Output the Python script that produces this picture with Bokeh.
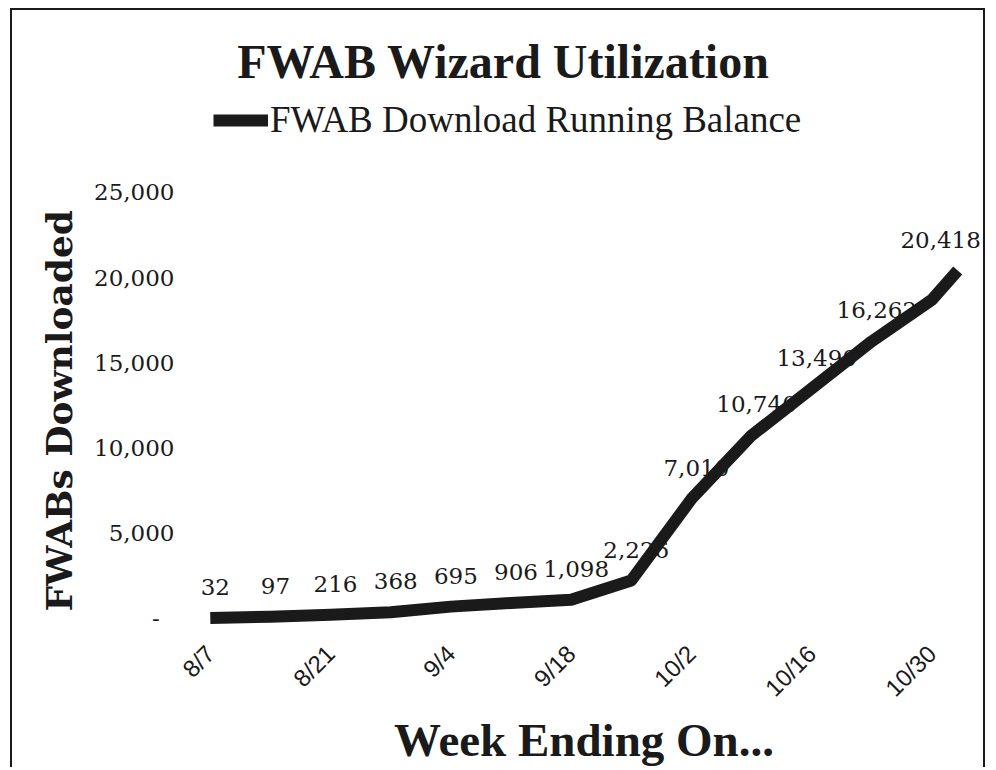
import pandas as pd
from bokeh.plotting import figure
from bokeh.models import (ColumnDataSource, FixedTicker, NumeralTickFormatter,
                          Title, Label, Legend, LegendItem)
from bokeh.core.properties import value
from bokeh.embed import file_html
from bokeh.resources import INLINE

# ---- data ----
week_ending = ["2004-08-07", "2004-08-14", "2004-08-21", "2004-08-28", "2004-09-04",
               "2004-09-11", "2004-09-18", "2004-09-25", "2004-10-02", "2004-10-09",
               "2004-10-16", "2004-10-23", "2004-10-30", "2004-11-02"]
running_balance = [32, 97, 216, 368, 695, 906, 1098, 2226, 7010, 10740,
                   13490, 16262, 18700, 20418]
value_labels = ["32", "97", "216", "368", "695", "906", "1,098", "2,226", "7,010",
                "10,740", "13,490", "16,262", "", "20,418"]
tick_dates = ["2004-08-07", "2004-08-21", "2004-09-04", "2004-09-18",
              "2004-10-02", "2004-10-16", "2004-10-30"]
tick_labels = ["8/7", "8/21", "9/4", "9/18", "10/2", "10/16", "10/30"]
y_ticks = [0, 5000, 10000, 15000, 20000, 25000]

start = pd.Timestamp(week_ending[0])
days = [(pd.Timestamp(d) - start).days for d in week_ending]
tick_days = [(pd.Timestamp(d) - start).days for d in tick_dates]

# ---- layout constants ----
W, H = 975, 759
MB_L, MB_R, MB_T, MB_B = 172, 4, 0, 133
X0, X1 = -3, 90
Y0, Y1 = -1000, 35675          # upper part of the frame holds title + legend
FRAME_W = W - MB_L - MB_R
LBL_PX = 23

# keep data labels inside the plot area (as the original chart does)
def text_width(s, fs):
    return sum((0.33 if c == "," else 0.66) * fs for c in s)

px_per_day = (FRAME_W - 4) / (X1 - X0)
offsets = []
for d, s in zip(days, value_labels):
    px = (d - X0) * px_per_day
    off = 5.0
    half = text_width(s, LBL_PX) / 2
    if px + off + half > FRAME_W - 5:
        off = FRAME_W - 5 - half - px
    offsets.append(off)

src = ColumnDataSource(dict(x=days, y=running_balance, lbl=value_labels, xo=offsets))

p = figure(width=W, height=H, output_backend="svg", toolbar_location=None,
           x_range=(X0, X1), y_range=(Y0, Y1),
           min_border_left=MB_L, min_border_right=MB_R,
           min_border_top=MB_T, min_border_bottom=MB_B)
p.margin = (8, 0, 0, 10)
p.styles = {"border-left": "2px solid #1a1a1a", "border-top": "2px solid #1a1a1a",
            "border-right": "2px solid #1a1a1a"}
p.outline_line_color = None
p.grid.visible = False
p.background_fill_color = "white"
p.border_fill_color = "white"

serif = "DejaVu Serif"
cond = "Liberation Serif"

# data labels (drawn under the line)
p.text(x="x", y="y", text="lbl", source=src, text_align="center",
       text_baseline="middle", x_offset="xo", y_offset=-31,
       text_font=value(serif), text_font_size=f"{LBL_PX}px", text_color="#1a1a1a")

line = p.line(x="x", y="y", source=src, line_color="#1a1a1a", line_width=12,
              line_join="round", line_cap="butt")

# axes
xa = p.xaxis[0]
xa.ticker = FixedTicker(ticks=tick_days)
xa.major_label_overrides = {d: l for d, l in zip(tick_days, tick_labels)}
xa.major_label_orientation = 3.14159265 / 4
xa.major_label_text_font = "Liberation Sans"
xa.major_label_text_font_size = "24px"
xa.major_label_text_color = "#1a1a1a"
xa.major_label_standoff = 8
xa.axis_line_color = None
xa.major_tick_line_color = None
xa.minor_tick_line_color = None
xa.axis_label = "Week Ending On..."
xa.axis_label_text_font = cond
xa.axis_label_text_font_style = "bold"
xa.axis_label_text_font_size = "47px"
xa.axis_label_text_color = "#1a1a1a"
xa.axis_label_standoff = 0

ya = p.yaxis[0]
ya.ticker = FixedTicker(ticks=y_ticks)
ya.formatter = NumeralTickFormatter(format="0,0")
ya.major_label_overrides = {0: "-\u2007"}
ya.major_label_text_font = serif
ya.major_label_text_font_size = f"{LBL_PX}px"
ya.major_label_text_color = "#1a1a1a"
ya.major_label_standoff = 4
ya.axis_line_color = None
ya.major_tick_line_color = None
ya.minor_tick_line_color = None

# y-axis title, placed along the 0..25,000 part of the axis
yt = Title(text="FWABs Downloaded", align="left", offset=24,
           text_font=serif, text_font_style="bold", text_font_size="36px",
           text_color="#1a1a1a", standoff=24)
p.add_layout(yt, "left")

# chart title
title = Label(x=319, y=574, x_units="screen", y_units="screen",
              text="FWAB Wizard Utilization", text_align="center",
              text_baseline="middle", text_font=cond, text_font_style="bold",
              text_font_size="48px", text_color="#1a1a1a")
p.add_layout(title)

legend = Legend(items=[LegendItem(label="FWAB Download Running Balance", renderers=[line])],
                location=(29, 494), padding=0, margin=0, border_line_color=None,
                background_fill_alpha=0, glyph_width=55, glyph_height=30,
                label_standoff=2, label_text_font=cond, label_text_font_size="37px",
                label_text_color="#1a1a1a")
p.add_layout(legend)

open("out.html", "w").write(file_html(p, INLINE))
